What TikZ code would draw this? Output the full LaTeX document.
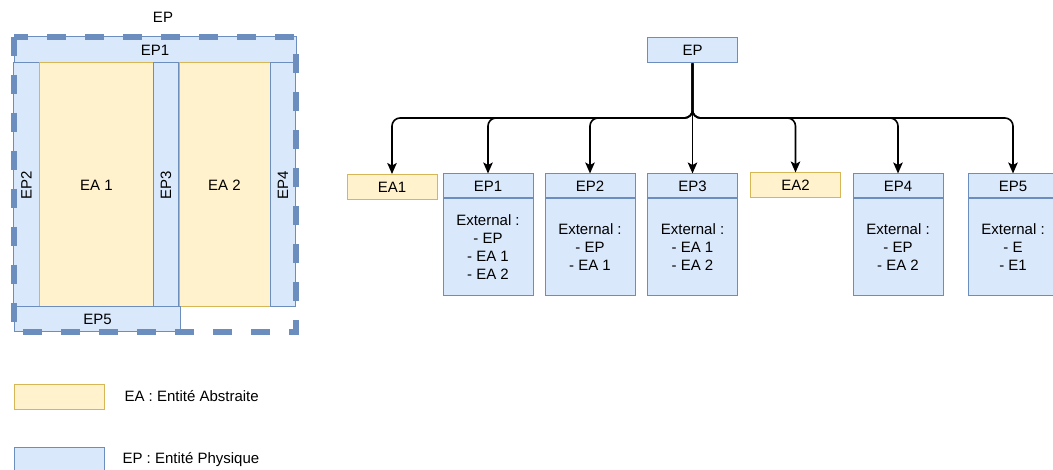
\documentclass[tikz,border=0pt]{standalone}
\usepackage{fontspec}
\setmainfont{Liberation Sans}
\usepackage{tikz}
\usetikzlibrary{positioning,calc,arrows.meta}
\definecolor{epfill}{HTML}{DAE8FC}
\definecolor{epline}{HTML}{6C8EBF}
\definecolor{eafill}{HTML}{FFF2CC}
\definecolor{ealine}{HTML}{D6B656}

\begin{document}
\begin{tikzpicture}[x=1pt,y=-1pt,
  txt/.style={font=\fontsize{15}{18}\selectfont},
  phys/.style={txt,rectangle,draw=epline,fill=epfill,line width=1pt,inner sep=0pt},
  abst/.style={txt,rectangle,draw=ealine,fill=eafill,line width=1pt,inner sep=0pt},
  small/.style={minimum width=90pt,minimum height=25pt},
  lane/.style={rotate=90,minimum height=25.5pt,minimum width=244pt},
  body/.style={phys,minimum width=90pt,minimum height=97pt,align=center},
  frame/.style={draw=epline,line width=6pt,dash pattern=on 19pt off 19pt},
  arr/.style={-{Stealth[length=11pt,width=9.5pt,inset=2.5pt]},line width=1.6pt,rounded corners=8pt}]
\useasboundingbox (0,0) rectangle (1053,470);

% vue en plan
\node[txt] (titre) at (163,17) {EP};
\node[phys,minimum width=282pt,minimum height=26pt] (p1) at (155,50) {EP1};
\node[phys,lane] (p2) at (26.5,185) {EP2};
\node[abst,minimum width=114.5pt,minimum height=244pt] (a1) at (96.5,185) {EA 1};
\node[phys,lane] (p3) at (166,185) {EP3};
\node[abst,minimum width=91pt,minimum height=244pt] (a2) at (224.5,185) {EA 2};
\node[phys,lane] (p4) at (283,185) {EP4};
\node[phys,minimum width=166.5pt,minimum height=25pt] (p5) at (97.5,319.5) {EP5};
\draw[frame] (14,37) rectangle (296,332);

% arbre
\node[phys,small] (root) at (692.5,50.5) {EP};
\coordinate (split) at (692.5,118);
\node[abst,small] (ea1) at (392,187) {EA1};
\node[abst,small] (ea2) at (795.5,185.5) {EA2};
\foreach \n/\x/\ext in {1/488/{External :\\- EP\\- EA 1\\- EA 2},
                        2/590/{External :\\- EP\\- EA 1},
                        3/692.5/{External :\\- EA 1\\- EA 2},
                        4/898/{External :\\- EP\\- EA 2},
                        5/1013/{External :\\- E\\- E1}} {
  \node[phys,minimum width=90pt,minimum height=24pt] (ep\n) at (\x,186) {EP\n};
  \node[body,below=0pt of ep\n] (ext\n) {\ext};
}
\foreach \t in {ea1,ep1,ep2,ea2,ep4,ep5}
  \draw[arr] (root.south) -- (root.south |- split) -| (\t.north);
\draw[arr] (root.south) -- (ep3.north);

% legende
\node[abst,small] (legea) at (59,397) {};
\node[txt,anchor=west] (legeatxt) at (121,396) {EA : Entité Abstraite};
\node[phys,small] (legep) at (59,460) {};
\node[txt,anchor=west] (legeptxt) at (119,460) {EP : Entité Physique};
\end{tikzpicture}
\end{document}
